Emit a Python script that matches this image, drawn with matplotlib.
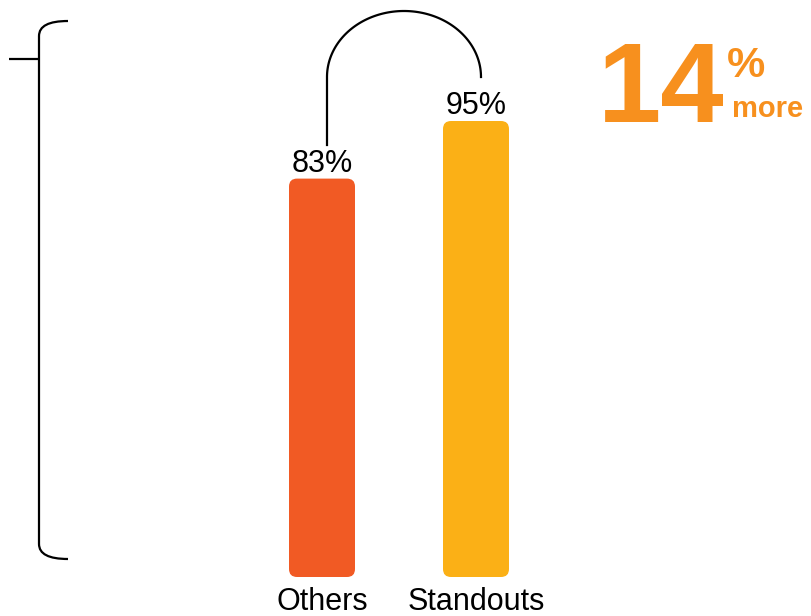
import matplotlib
matplotlib.use("Agg")
import matplotlib.pyplot as plt
import numpy as np
from matplotlib.patches import FancyBboxPatch, PathPatch
from matplotlib.path import Path

plt.rcParams["font.family"] = ["Liberation Sans", "DejaVu Sans"]

categories = ["Others", "Standouts"]
values = [83, 95]
value_labels = ["83%", "95%"]
bar_colors = ["#F15A24", "#FBB016"]
accent = "#F7901E"
headline = "14"

W, H = 811, 616
fig = plt.figure(figsize=(W / 100, H / 100), dpi=100)

# main axes: bar centres at px 322 / 476, baseline at px 577, 4.8 px per %
px_per_x = 154.0
px_per_y = 4.8
ax = fig.add_axes([0, 0, 1, 1])
ax.set_xlim((0 - 322) / px_per_x, (W - 322) / px_per_x)
ax.set_ylim((577 - H) / px_per_y, 577 / px_per_y)
ax.axis("off")

x = np.arange(len(categories))
bars = ax.bar(x, values, width=66 / px_per_x, color=bar_colors)
for b, c in zip(bars, bar_colors):
    b.set_visible(False)
    ax.add_patch(FancyBboxPatch((b.get_x(), b.get_y()), b.get_width(), b.get_height(),
                                boxstyle="round,pad=0,rounding_size=%f" % (8 / px_per_x),
                                mutation_aspect=px_per_x / px_per_y,
                                facecolor=c, edgecolor="none"))

for xi, v, lab in zip(x, values, value_labels):
    ax.annotate(lab, (xi, v), xytext=(0, 5), textcoords="offset points",
                ha="center", va="baseline", fontsize=22, color="black")

for xi, cat in zip(x, categories):
    ax.annotate(cat, (xi, 0), xytext=(0, -24), textcoords="offset points",
                ha="center", va="baseline", fontsize=22, color="black")

# decoration overlay in pixel coordinates
deco = fig.add_axes([0, 0, 1, 1])
deco.set_xlim(0, W)
deco.set_ylim(H, 0)
deco.axis("off")
deco.patch.set_alpha(0)

# bracket on the left
verts = [(68, 21), (39, 21), (39, 36), (39, 544), (39, 559), (68, 559)]
codes = [Path.MOVETO, Path.CURVE3, Path.CURVE3, Path.LINETO, Path.CURVE3, Path.CURVE3]
deco.add_patch(PathPatch(Path(verts, codes), fill=False, lw=1.6, edgecolor="black",
                         capstyle="butt"))
deco.plot([9, 39], [59, 59], color="black", lw=1.6, solid_capstyle="butt")

# connector arc between the two bars
t = np.linspace(np.pi, 0, 100)
cx, cy, rx, ry = 404, 77, 77, 66
arc_x = np.concatenate([[327], cx + rx * np.cos(t)])
arc_y = np.concatenate([[145], cy - ry * np.sin(t)])
deco.plot(arc_x, arc_y, color="black", lw=1.6)

# headline
deco.text(661, 122, headline, ha="center", va="baseline", fontsize=82,
          fontweight="bold", color=accent)
deco.text(746, 77, "%", ha="center", va="baseline", fontsize=31,
          fontweight="bold", color=accent)
deco.text(768, 117, "more", ha="center", va="baseline", fontsize=21,
          fontweight="bold", color=accent)

fig.savefig("out.png", dpi=100)
